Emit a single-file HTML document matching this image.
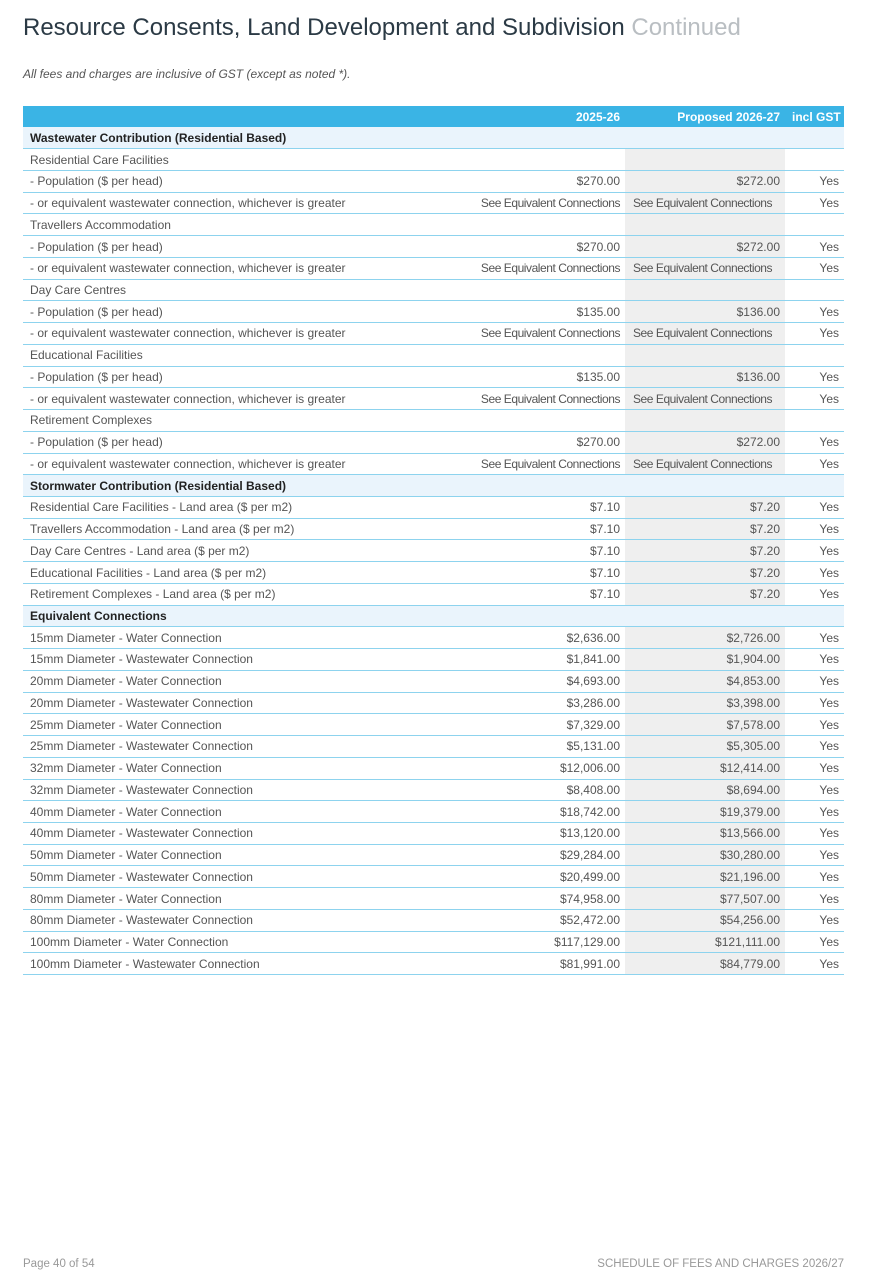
<!DOCTYPE html>
<html><head><meta charset="utf-8"><style>
body{margin:0;width:880px;height:1273px;background:#fff;position:relative;font-family:"Liberation Sans",sans-serif;overflow:hidden}
h1{position:absolute;left:23px;top:14px;margin:0;font-weight:normal;font-size:24px;color:#2b3a45;letter-spacing:0px}
h1 span{color:#b9bec2}
.note{position:absolute;left:23px;top:67px;font-size:12px;font-style:italic;color:#555}
table{position:absolute;left:23px;top:106px;width:821px;table-layout:fixed;border-collapse:collapse;font-size:12px;line-height:14px;color:#555}
td{height:21.74px;padding:0 5px 0 7px;border-bottom:1px solid #8dd3ee;white-space:nowrap;overflow:hidden;box-sizing:border-box;vertical-align:middle}
td.r{text-align:right}
td.g{background:#efefef}
td.e{padding-left:2px;letter-spacing:-0.45px}
tr.h td{background:#3ab4e5;color:#fff;font-weight:bold;border-bottom:none;height:21px;text-align:right}
tr.s td{background:#eaf4fc;color:#222;font-weight:bold}
.foot{position:absolute;top:1258px;font-size:11.5px;color:#999}
</style></head><body>
<h1>Resource Consents, Land Development and Subdivision <span>Continued</span></h1>
<div class="note">All fees and charges are inclusive of GST (except as noted *).</div>
<table>
<colgroup><col style="width:445px"><col style="width:157px"><col style="width:160px"><col style="width:59px"></colgroup>
<tr class="h"><td></td><td>2025-26</td><td>Proposed 2026-27</td><td>incl GST</td></tr>
<tr class="s"><td colspan="4">Wastewater Contribution (Residential Based)</td></tr>
<tr><td>Residential Care Facilities</td><td></td><td class="g"></td><td></td></tr>
<tr><td>- Population ($ per head)</td><td class="r">$270.00</td><td class="r g">$272.00</td><td class="r">Yes</td></tr>
<tr><td>- or equivalent wastewater connection, whichever is greater</td><td class="r e">See Equivalent Connections</td><td class="g e" style="padding-left:8px">See Equivalent Connections</td><td class="r">Yes</td></tr>
<tr><td>Travellers Accommodation</td><td></td><td class="g"></td><td></td></tr>
<tr><td>- Population ($ per head)</td><td class="r">$270.00</td><td class="r g">$272.00</td><td class="r">Yes</td></tr>
<tr><td>- or equivalent wastewater connection, whichever is greater</td><td class="r e">See Equivalent Connections</td><td class="g e" style="padding-left:8px">See Equivalent Connections</td><td class="r">Yes</td></tr>
<tr><td>Day Care Centres</td><td></td><td class="g"></td><td></td></tr>
<tr><td>- Population ($ per head)</td><td class="r">$135.00</td><td class="r g">$136.00</td><td class="r">Yes</td></tr>
<tr><td>- or equivalent wastewater connection, whichever is greater</td><td class="r e">See Equivalent Connections</td><td class="g e" style="padding-left:8px">See Equivalent Connections</td><td class="r">Yes</td></tr>
<tr><td>Educational Facilities</td><td></td><td class="g"></td><td></td></tr>
<tr><td>- Population ($ per head)</td><td class="r">$135.00</td><td class="r g">$136.00</td><td class="r">Yes</td></tr>
<tr><td>- or equivalent wastewater connection, whichever is greater</td><td class="r e">See Equivalent Connections</td><td class="g e" style="padding-left:8px">See Equivalent Connections</td><td class="r">Yes</td></tr>
<tr><td>Retirement Complexes</td><td></td><td class="g"></td><td></td></tr>
<tr><td>- Population ($ per head)</td><td class="r">$270.00</td><td class="r g">$272.00</td><td class="r">Yes</td></tr>
<tr><td>- or equivalent wastewater connection, whichever is greater</td><td class="r e">See Equivalent Connections</td><td class="g e" style="padding-left:8px">See Equivalent Connections</td><td class="r">Yes</td></tr>
<tr class="s"><td colspan="4">Stormwater Contribution (Residential Based)</td></tr>
<tr><td>Residential Care Facilities - Land area ($ per m2)</td><td class="r">$7.10</td><td class="r g">$7.20</td><td class="r">Yes</td></tr>
<tr><td>Travellers Accommodation - Land area ($ per m2)</td><td class="r">$7.10</td><td class="r g">$7.20</td><td class="r">Yes</td></tr>
<tr><td>Day Care Centres - Land area ($ per m2)</td><td class="r">$7.10</td><td class="r g">$7.20</td><td class="r">Yes</td></tr>
<tr><td>Educational Facilities - Land area ($ per m2)</td><td class="r">$7.10</td><td class="r g">$7.20</td><td class="r">Yes</td></tr>
<tr><td>Retirement Complexes - Land area ($ per m2)</td><td class="r">$7.10</td><td class="r g">$7.20</td><td class="r">Yes</td></tr>
<tr class="s"><td colspan="4">Equivalent Connections</td></tr>
<tr><td>15mm Diameter - Water Connection</td><td class="r">$2,636.00</td><td class="r g">$2,726.00</td><td class="r">Yes</td></tr>
<tr><td>15mm Diameter - Wastewater Connection</td><td class="r">$1,841.00</td><td class="r g">$1,904.00</td><td class="r">Yes</td></tr>
<tr><td>20mm Diameter - Water Connection</td><td class="r">$4,693.00</td><td class="r g">$4,853.00</td><td class="r">Yes</td></tr>
<tr><td>20mm Diameter - Wastewater Connection</td><td class="r">$3,286.00</td><td class="r g">$3,398.00</td><td class="r">Yes</td></tr>
<tr><td>25mm Diameter - Water Connection</td><td class="r">$7,329.00</td><td class="r g">$7,578.00</td><td class="r">Yes</td></tr>
<tr><td>25mm Diameter - Wastewater Connection</td><td class="r">$5,131.00</td><td class="r g">$5,305.00</td><td class="r">Yes</td></tr>
<tr><td>32mm Diameter - Water Connection</td><td class="r">$12,006.00</td><td class="r g">$12,414.00</td><td class="r">Yes</td></tr>
<tr><td>32mm Diameter - Wastewater Connection</td><td class="r">$8,408.00</td><td class="r g">$8,694.00</td><td class="r">Yes</td></tr>
<tr><td>40mm Diameter - Water Connection</td><td class="r">$18,742.00</td><td class="r g">$19,379.00</td><td class="r">Yes</td></tr>
<tr><td>40mm Diameter - Wastewater Connection</td><td class="r">$13,120.00</td><td class="r g">$13,566.00</td><td class="r">Yes</td></tr>
<tr><td>50mm Diameter - Water Connection</td><td class="r">$29,284.00</td><td class="r g">$30,280.00</td><td class="r">Yes</td></tr>
<tr><td>50mm Diameter - Wastewater Connection</td><td class="r">$20,499.00</td><td class="r g">$21,196.00</td><td class="r">Yes</td></tr>
<tr><td>80mm Diameter - Water Connection</td><td class="r">$74,958.00</td><td class="r g">$77,507.00</td><td class="r">Yes</td></tr>
<tr><td>80mm Diameter - Wastewater Connection</td><td class="r">$52,472.00</td><td class="r g">$54,256.00</td><td class="r">Yes</td></tr>
<tr><td>100mm Diameter - Water Connection</td><td class="r">$117,129.00</td><td class="r g">$121,111.00</td><td class="r">Yes</td></tr>
<tr><td>100mm Diameter - Wastewater Connection</td><td class="r">$81,991.00</td><td class="r g">$84,779.00</td><td class="r">Yes</td></tr>
</table>
<div class="foot" style="left:23px">Page 40 of 54</div>
<div class="foot" style="right:36px">SCHEDULE OF FEES AND CHARGES 2026/27</div>
</body></html>
